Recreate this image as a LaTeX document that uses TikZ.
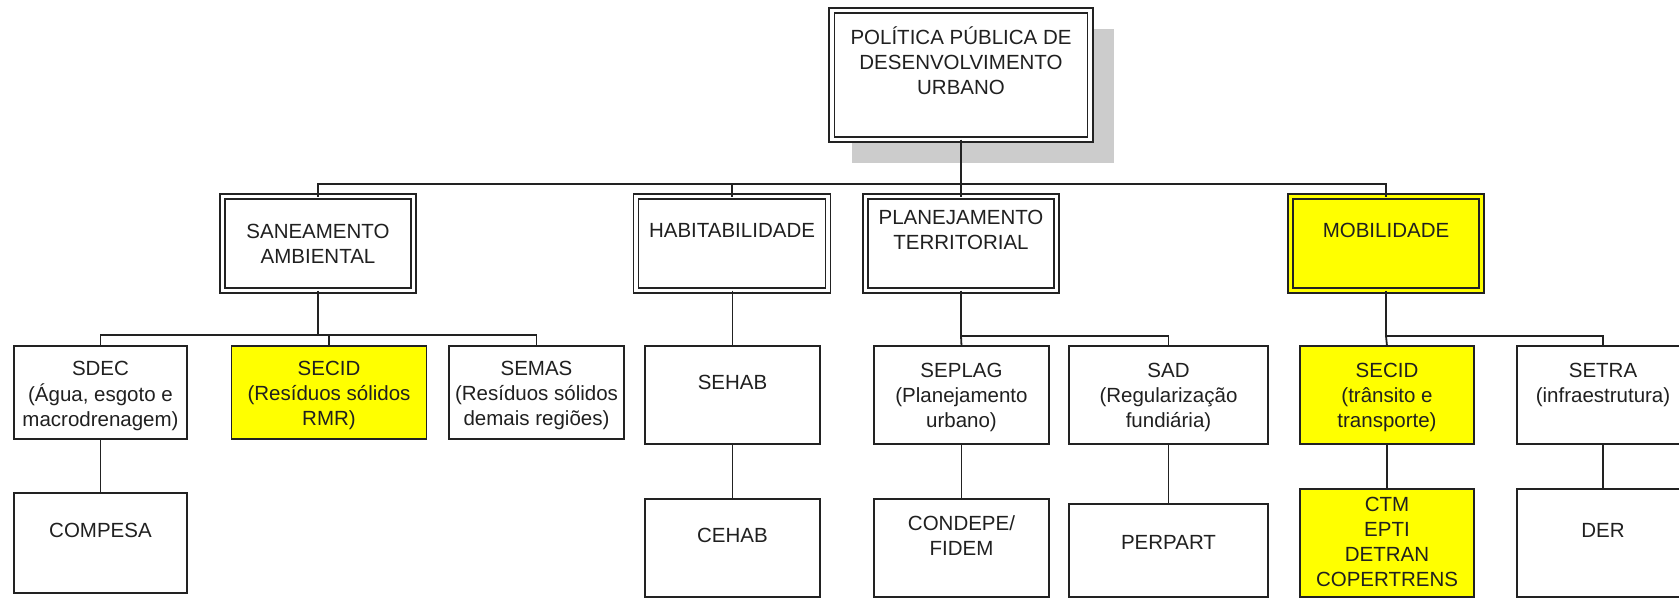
\documentclass[tikz,border=0pt]{standalone}
\usepackage{fontspec}
\setmainfont{Liberation Sans}
\definecolor{ln}{HTML}{222222}
\definecolor{shd}{HTML}{CCCCCC}
\definecolor{yel}{HTML}{FFFF00}
\definecolor{tx}{HTML}{202020}
\tikzset{
  sbox/.style={draw=ln, line width=1.7pt, fill=white, inner sep=0pt, outer sep=0pt},
  dbox/.style={draw=ln, line width=1.5pt, double=white, double distance=3.6pt, fill=white, inner sep=0pt, outer sep=0pt},
  ybox/.style={fill=yel},
  ydbox/.style={fill=yel, double=yel},
  txt/.style={font=\fontsize{20.5}{25}\selectfont, text=tx, align=center, inner sep=0pt, anchor=north},
  wire/.style={draw=ln, line width=1.8pt}
}
\begin{document}
\begin{tikzpicture}[x=1pt, y=-1pt]
\useasboundingbox (0,0) rectangle (1679,598);
\fill[white] (0,0) rectangle (1679,598);
% shadow of the top box
\fill[shd] (852,29) rectangle (1114,163);
% level 1
\node[dbox, minimum width=258.5pt, minimum height=129pt] (pol) at (961,75) {};
% level 2
\node[dbox, minimum width=191pt, minimum height=94pt] (san) at (318,243.5) {};
\node[dbox, minimum width=192pt, minimum height=94pt] (hab) at (732,243.5) {};
\node[dbox, minimum width=191pt, minimum height=94pt] (pla) at (961,243.5) {};
\node[dbox, ydbox, minimum width=191pt, minimum height=94pt] (mob) at (1386,243.5) {};
% level 3
\node[sbox, minimum width=173pt, minimum height=93pt] (sdec) at (100.5,392.5) {};
\node[sbox, ybox, minimum width=195pt, minimum height=93pt] (secida) at (329,392.5) {};
\node[sbox, minimum width=175pt, minimum height=93pt] (semas) at (536.5,392.5) {};
\node[sbox, minimum width=175pt, minimum height=98pt] (sehab) at (732.5,395) {};
\node[sbox, minimum width=175pt, minimum height=98pt] (seplag) at (961.5,395) {};
\node[sbox, minimum width=199pt, minimum height=98pt] (sad) at (1168.5,395) {};
\node[sbox, ybox, minimum width=174pt, minimum height=98pt] (secidb) at (1387,395) {};
\node[sbox, minimum width=172pt, minimum height=98pt] (setra) at (1603,395) {};
% level 4
\node[sbox, minimum width=173pt, minimum height=100pt] (compesa) at (100.5,543) {};
\node[sbox, minimum width=175pt, minimum height=98pt] (cehab) at (732.5,548) {};
\node[sbox, minimum width=175pt, minimum height=98pt] (condepe) at (961.5,548) {};
\node[sbox, minimum width=199pt, minimum height=93pt] (perpart) at (1168.5,550.5) {};
\node[sbox, ybox, minimum width=174pt, minimum height=108pt] (ctm) at (1387,543) {};
\node[sbox, minimum width=172pt, minimum height=108pt] (der) at (1603,543) {};
% texts
\node[txt] (pol-t) at (pol.center |- 0,26.8) {\strut POLÍTICA PÚBLICA DE\\\strut DESENVOLVIMENTO\\\strut URBANO};
\node[txt] (san-t) at (san.center |- 0,221) {\strut SANEAMENTO\\\strut AMBIENTAL};
\node[txt] (hab-t) at (hab.center |- 0,219.5) {\strut HABITABILIDADE};
\node[txt] (pla-t) at (pla.center |- 0,206.5) {\strut PLANEJAMENTO\\\strut TERRITORIAL};
\node[txt] (mob-t) at (mob.center |- 0,219.5) {\strut MOBILIDADE};
\node[txt] (sdec-t) at (sdec.center |- 0,358) {\strut SDEC\\\strut (Água, esgoto e\\\strut macrodrenagem)};
\node[txt] (secida-t) at (secida.center |- 0,358) {\strut SECID\\\strut (Resíduos sólidos\\\strut RMR)};
\node[txt] (semas-t) at (semas.center |- 0,358) {\strut SEMAS\\\strut (Resíduos sólidos\\\strut demais regiões)};
\node[txt] (sehab-t) at (sehab.center |- 0,371.5) {\strut SEHAB};
\node[txt] (seplag-t) at (seplag.center |- 0,359.5) {\strut SEPLAG\\\strut (Planejamento\\\strut urbano)};
\node[txt] (sad-t) at (sad.center |- 0,359.5) {\strut SAD\\\strut (Regularização\\\strut fundiária)};
\node[txt] (secidb-t) at (secidb.center |- 0,359.5) {\strut SECID\\\strut (trânsito e\\\strut transporte)};
\node[txt] (setra-t) at (setra.center |- 0,359.5) {\strut SETRA\\\strut (infraestrutura)};
\node[txt] (compesa-t) at (compesa.center |- 0,519.5) {\strut COMPESA};
\node[txt] (cehab-t) at (cehab.center |- 0,524.5) {\strut CEHAB};
\node[txt] (condepe-t) at (condepe.center |- 0,512.5) {\strut CONDEPE/\\\strut FIDEM};
\node[txt] (perpart-t) at (perpart.center |- 0,531.5) {\strut PERPART};
\node[txt] (ctm-t) at (ctm.center |- 0,493.5) {\strut CTM\\\strut EPTI\\\strut DETRAN\\\strut COPERTRENS};
\node[txt] (der-t) at (der.center |- 0,519.5) {\strut DER};
% connectors
\coordinate (b1) at (pol.south |- 0,184);
\draw[wire] (pol.south) -- (pla.north);
\draw[wire] (san.north) |- (b1);
\draw[wire] (mob.north) |- (b1);
\draw[wire] (hab.north) -- (hab.north |- b1);
\coordinate (b2) at (san.south |- 0,335);
\draw[wire] (san.south) -- (b2);
\draw[wire] (sdec.north) |- (b2) -| (semas.north);
\draw[wire] (secida.north) -- (secida.north |- b2);
\draw[wire] (sdec.south) -- (compesa.north);
\draw[wire] (sehab.north |- hab.south) -- (sehab.north);
\draw[wire] (sehab.south) -- (cehab.north);
\coordinate (b3) at (pla.south |- 0,336);
\draw[wire] (pla.south) -- (b3) -| (sad.north);
\draw[wire] (b3) -- (seplag.north);
\draw[wire] (seplag.south) -- (condepe.north);
\draw[wire] (sad.south) -- (perpart.north);
\coordinate (b4) at (mob.south |- 0,336);
\draw[wire] (mob.south) -- (b4) -| (setra.north);
\draw[wire] (b4) -- (secidb.north);
\draw[wire] (secidb.south) -- (ctm.north);
\draw[wire] (setra.south) -- (der.north);
\end{tikzpicture}
\end{document}
